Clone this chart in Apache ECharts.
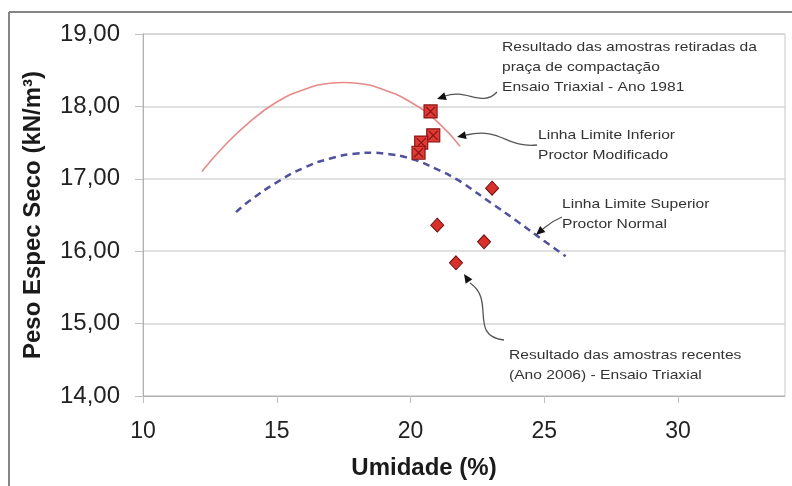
<!DOCTYPE html>
<html>
<head>
<meta charset="utf-8">
<script src="https://cdn.jsdelivr.net/npm/echarts@6/dist/echarts.min.js"></script>
<style>
  html, body { margin: 0; padding: 0; background: #fff; }
  #chart { width: 792px; height: 486px; }
</style>
</head>
<body>
<div id="chart"></div>
<script>
// curva de compactacao - Proctor Modificado (limite inferior)
const modUmidade = [12.2, 13, 14, 15, 16, 17, 17.5, 18, 19, 20, 21, 21.85];
const modPeso = [17.10, 17.44, 17.79, 18.06, 18.23, 18.32, 18.33, 18.32, 18.23, 18.06, 17.79, 17.45];

// curva de compactacao - Proctor Normal (limite superior)
const normUmidade = [13.48, 14, 15, 16, 17, 18, 18.6, 19, 20, 21, 21.7, 22, 23, 24, 25, 25.8];
const normPeso = [16.54, 16.70, 16.95, 17.15, 17.28, 17.35, 17.36, 17.35, 17.28, 17.13, 17.00, 16.93, 16.67, 16.41, 16.14, 15.93];

// amostras 1981 (praca de compactacao)
const ano1981Umidade = [20.75, 20.85, 20.4, 20.3];
const ano1981Peso = [17.93, 17.60, 17.50, 17.36];

// amostras recentes 2006
const ano2006Umidade = [23.05, 21.0, 22.75, 21.7];
const ano2006Peso = [16.87, 16.36, 16.13, 15.84];

const FONT = '"Liberation Sans", Arial, sans-serif';

function pairs(xs, ys) {
  return xs.map((x, i) => [x, ys[i]]);
}

// arrowhead triangle pointing to tip, coming from point "from"
function arrowHead(tip, from) {
  const dx = tip[0] - from[0], dy = tip[1] - from[1];
  const len = Math.sqrt(dx * dx + dy * dy);
  const ux = dx / len, uy = dy / len;
  const L = 9, W = 4;
  const bx = tip[0] - ux * L, by = tip[1] - uy * L;
  return {
    type: 'polygon',
    shape: { points: [tip, [bx - uy * W, by + ux * W], [bx + uy * W, by - ux * W]] },
    style: { fill: '#111' },
    z: 10
  };
}

function curve(p1, c1, c2, p2) {
  return {
    type: 'bezierCurve',
    shape: { x1: p1[0], y1: p1[1], cpx1: c1[0], cpy1: c1[1], cpx2: c2[0], cpy2: c2[1], x2: p2[0], y2: p2[1] },
    style: { stroke: '#555', lineWidth: 1.3, fill: null },
    z: 10
  };
}

// texto das anotacoes (um pouco esticado na horizontal como no original)
function label(x, y, lines) {
  return {
    type: 'text',
    x: x, y: y,
    scaleX: 1.2,
    style: {
      text: lines.join('\n'), font: '13px ' + FONT, fill: '#333',
      lineHeight: 20, verticalAlign: 'top', align: 'left'
    },
    z: 10
  };
}

const squareX = 'path://M0,0H10V10H0Z M1.5,1.5L8.5,8.5 M8.5,1.5L1.5,8.5';

const option = {
  backgroundColor: '#fff',
  animation: false,
  grid: {
    left: 143, right: 7, top: 34, bottom: 90,
    show: true, borderColor: '#c8c8c8', borderWidth: 1
  },
  xAxis: {
    type: 'value',
    min: 10, max: 34, interval: 5,
    name: 'Umidade (%)',
    nameLocation: 'middle',
    nameGap: 60,
    nameTextStyle: { fontFamily: FONT, fontWeight: 'bold', fontSize: 24, color: '#1a1a1a', padding: [0, 80, 0, 0] },
    axisLine: { lineStyle: { color: '#b0b0b0' } },
    axisTick: { show: true, length: 7, lineStyle: { color: '#c0c0c0' } },
    axisLabel: { fontFamily: FONT, fontSize: 23, color: '#222', margin: 24, showMaxLabel: false },
    splitLine: { show: false }
  },
  yAxis: {
    type: 'value',
    min: 14, max: 19, interval: 1,
    name: 'Peso Espec Seco (kN/m³)',
    nameLocation: 'middle',
    nameGap: 98,
    nameTextStyle: { fontFamily: FONT, fontWeight: 'bold', fontSize: 24, color: '#1a1a1a' },
    axisLine: { show: true, lineStyle: { color: '#b0b0b0' } },
    axisTick: { show: true, length: 8, lineStyle: { color: '#c0c0c0' } },
    axisLabel: {
      fontFamily: FONT, fontSize: 24, color: '#222', margin: 23,
      formatter: v => v.toFixed(2).replace('.', ',')
    },
    splitLine: { lineStyle: { color: '#d6d6d6', width: 1.5 } }
  },
  series: [
    {
      name: 'Proctor Modificado',
      type: 'line',
      data: pairs(modUmidade, modPeso),
      smooth: true,
      showSymbol: false,
      lineStyle: { color: '#e68a8a', width: 1.6 },
      z: 2
    },
    {
      name: 'Proctor Normal',
      type: 'line',
      data: pairs(normUmidade, normPeso),
      smooth: true,
      showSymbol: false,
      lineStyle: { color: '#50509e', width: 2.5, type: [7, 5] },
      z: 2
    },
    {
      name: 'Ensaio Triaxial - Ano 1981',
      type: 'scatter',
      data: pairs(ano1981Umidade, ano1981Peso),
      symbol: squareX,
      symbolSize: 13,
      itemStyle: { color: '#e03a34', borderColor: '#8a1414', borderWidth: 1.2, opacity: 1 },
      z: 4
    },
    {
      name: 'Ensaio Triaxial - Ano 2006',
      type: 'scatter',
      data: pairs(ano2006Umidade, ano2006Peso),
      symbol: 'diamond',
      symbolSize: [13, 14],
      itemStyle: { color: '#d8302a', borderColor: '#6e1010', borderWidth: 1, opacity: 1 },
      z: 4
    }
  ],
  graphic: [
    // moldura externa
    { type: 'line', shape: { x1: 9, y1: 12, x2: 792, y2: 12 }, style: { stroke: '#858585', lineWidth: 2 } },
    { type: 'line', shape: { x1: 9, y1: 12, x2: 9, y2: 486 }, style: { stroke: '#858585', lineWidth: 2 } },

    label(502, 37, ['Resultado das amostras retiradas da', 'praça de compactação', 'Ensaio Triaxial - Ano 1981']),
    curve([497, 92], [482, 108], [466, 88], [445, 96]),
    arrowHead([437, 99], [446, 96]),

    label(538, 125, ['Linha Limite Inferior', 'Proctor Modificado']),
    curve([537, 145], [505, 148], [502, 127], [466, 135]),
    arrowHead([457, 137], [466, 135]),

    label(562, 194, ['Linha Limite Superior', 'Proctor Normal']),
    curve([562, 217], [552, 221], [548, 225], [543, 229]),
    arrowHead([536, 235], [544, 228]),

    label(509, 345, ['Resultado das amostras recentes', '(Ano 2006) - Ensaio Triaxial']),
    curve([504, 340], [468, 336], [496, 300], [470, 283]),
    arrowHead([464, 274], [470, 283])
  ]
};

const myChart = echarts.init(document.getElementById('chart'));
myChart.setOption(option);
window.addEventListener('resize', function () {
  myChart.resize();
});
</script>
</body>
</html>
